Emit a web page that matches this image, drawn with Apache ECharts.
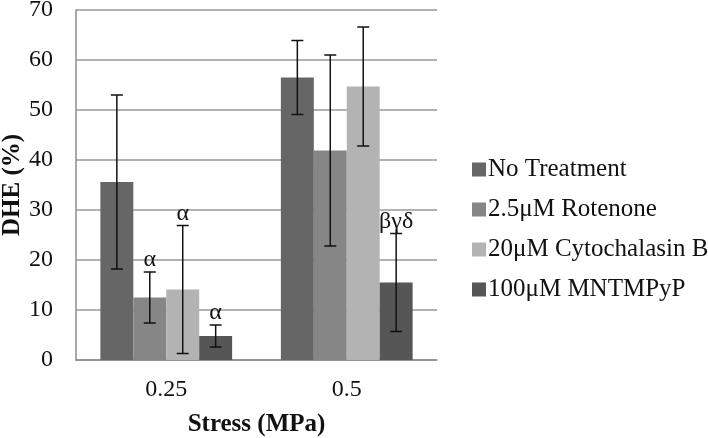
<!DOCTYPE html>
<html><head><meta charset="utf-8">
<script src="https://cdn.jsdelivr.net/npm/echarts@6/dist/echarts.min.js"></script>
<style>html,body{margin:0;padding:0;background:#fff}#c{width:708px;height:438px}</style>
</head><body><div id="c"></div>
<script>
const categories = ['0.25', '0.5'];
const seriesNames = ['No Treatment', '2.5\u03bcM Rotenone', '20\u03bcM Cytochalasin B', '100\u03bcM MNTMPyP'];
const noTreatment = [35.6, 56.5];
const rotenone = [12.5, 41.9];
const cytochalasin = [14.1, 54.7];
const mntmpyp = [4.8, 15.5];
const errNoTreatment = [17.4, 7.4];
const errRotenone = [5.1, 19.1];
const errCytochalasin = [12.8, 11.9];
const errMntmpyp = [2.2, 9.8];
const sigNoTreatment = ['', ''];
const sigRotenone = ['\u03b1', ''];
const sigCytochalasin = ['\u03b1', ''];
const sigMntmpyp = ['\u03b1', '\u03b2\u03b3\u03b4'];
const yTicks = [0, 10, 20, 30, 40, 50, 60, 70];

const values = [noTreatment, rotenone, cytochalasin, mntmpyp];
const errs = [errNoTreatment, errRotenone, errCytochalasin, errMntmpyp];
const sigs = [sigNoTreatment, sigRotenone, sigCytochalasin, sigMntmpyp];
const colors = ['#666666', '#868686', '#b3b3b3', '#565656'];
const catGap = 0.27;
const font = '"Liberation Serif", "Times New Roman", serif';
const fs = 24;

const series = [];
values.forEach((v, i) => {
  series.push({
    name: seriesNames[i], type: 'bar', data: v,
    itemStyle: { color: colors[i] },
    barGap: '0%', barCategoryGap: (catGap * 100) + '%',
    emphasis: { disabled: true }
  });
});
values.forEach((v, i) => {
  series.push({
    type: 'custom', silent: true, z: 10,
    data: v.map((val, j) => [j, val, errs[i][j]]),
    renderItem: function (params, api) {
      const x = api.value(0), val = api.value(1), e = api.value(2);
      const band = api.size([1, 0])[0];
      const bw = band * (1 - catGap) / values.length;
      const off = (i - (values.length - 1) / 2) * bw;
      const top = api.coord([x, val + e]);
      const bot = api.coord([x, val - e]);
      const cx = top[0] + off;
      const cap = 6;
      const st = { stroke: '#111', lineWidth: 1.5 };
      const children = [
        { type: 'line', shape: { x1: cx, y1: top[1], x2: cx, y2: bot[1] }, style: st },
        { type: 'line', shape: { x1: cx - cap, y1: top[1], x2: cx + cap, y2: top[1] }, style: st },
        { type: 'line', shape: { x1: cx - cap, y1: bot[1], x2: cx + cap, y2: bot[1] }, style: st }
      ];
      const s = sigs[i][params.dataIndex];
      if (s) {
        children.push({ type: 'text', style: { text: s, x: cx, y: top[1] - 12, align: 'center', verticalAlign: 'middle', font: fs + 'px ' + font, fill: '#111' } });
      }
      return { type: 'group', children: children };
    }
  });
});

const chart = echarts.init(document.getElementById('c'));
chart.setOption({
  animation: false,
  backgroundColor: '#fff',
  grid: { left: 76, right: 271, top: 10, bottom: 78, containLabel: false, outerBoundsMode: 'none' },
  legend: {
    data: seriesNames, orient: 'vertical', left: 467, top: 152,
    itemWidth: 14, itemHeight: 14, itemGap: 15,
    icon: 'rect',
    textStyle: { fontFamily: font, fontSize: 25, color: '#111', padding: [0, 0, 0, -3] }
  },
  xAxis: {
    type: 'category', data: categories,
    name: 'Stress (MPa)', nameLocation: 'middle', nameGap: 52, nameMoveOverlap: false,
    nameTextStyle: { fontFamily: font, fontSize: 25, fontWeight: 'bold', color: '#111' },
    axisLine: { lineStyle: { color: '#8c8c8c', width: 1.5 } },
    axisTick: { show: false },
    axisLabel: { fontFamily: font, fontSize: fs, color: '#111', margin: 18 }
  },
  yAxis: {
    type: 'value', min: 0, max: 70, interval: 10,
    name: 'DHE (%)', nameLocation: 'middle', nameGap: 51, nameMoveOverlap: false,
    nameTextStyle: { fontFamily: font, fontSize: 25, fontWeight: 'bold', color: '#111' },
    axisLine: { show: true, lineStyle: { color: '#8c8c8c', width: 1.5 } },
    axisTick: { show: false },
    axisLabel: { fontFamily: font, fontSize: fs, color: '#111', margin: 23,
      formatter: v => yTicks.includes(v) ? String(v) : '' },
    splitLine: { lineStyle: { color: '#999999', width: 1.5 } }
  },
  series: series
});
</script></body></html>
